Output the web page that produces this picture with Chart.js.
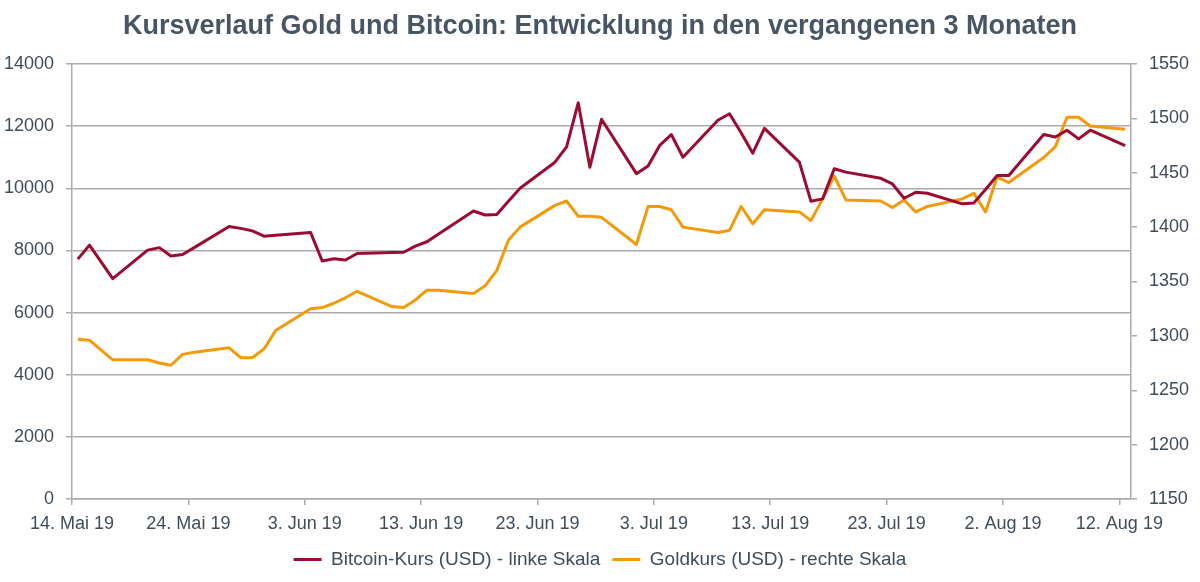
<!DOCTYPE html>
<html lang="de">
<head>
<meta charset="utf-8">
<script src="https://cdn.jsdelivr.net/npm/chart.js@4.4.1/dist/chart.umd.min.js"></script>
<style>
  html, body { margin: 0; padding: 0; background: #ffffff; }
  #wrap { width: 1200px; height: 582px; }
</style>
</head>
<body>
<div id="wrap"><canvas id="c" width="1200" height="582"></canvas></div>
<script>
// ---- Data ----
const startDate = "2019-05-14";
const dates = [
  "2019-05-14","2019-05-15","2019-05-17","2019-05-20","2019-05-21","2019-05-22","2019-05-23","2019-05-24",
  "2019-05-27","2019-05-28","2019-05-29","2019-05-30","2019-05-31",
  "2019-06-03","2019-06-04","2019-06-05","2019-06-06","2019-06-07",
  "2019-06-10","2019-06-11","2019-06-12","2019-06-13","2019-06-14",
  "2019-06-17","2019-06-18","2019-06-19","2019-06-20","2019-06-21",
  "2019-06-24","2019-06-25","2019-06-26","2019-06-27","2019-06-28",
  "2019-07-01","2019-07-02","2019-07-03","2019-07-04","2019-07-05",
  "2019-07-08","2019-07-09","2019-07-10","2019-07-11","2019-07-12",
  "2019-07-15","2019-07-16","2019-07-17","2019-07-18","2019-07-19",
  "2019-07-22","2019-07-23","2019-07-24","2019-07-25","2019-07-26",
  "2019-07-29","2019-07-30","2019-07-31","2019-08-01","2019-08-02",
  "2019-08-05","2019-08-06","2019-08-07","2019-08-08","2019-08-09",
  "2019-08-12"
];
const bitcoin = [
  7720, 8170, 7090, 8010, 8090, 7820, 7870, 8090,
  8770, 8710, 8630, 8460, 8490,
  8580, 7660, 7730, 7690, 7900,
  7930, 7940, 8140, 8280, 8530,
  9270, 9140, 9160, 9580, 10000,
  10840, 11330, 12750, 10680, 12220,
  10470, 10720, 11380, 11730, 11000,
  12190, 12400, 11790, 11130, 11930,
  10840, 9580, 9660, 10630, 10520,
  10320, 10140, 9680, 9870, 9840,
  9500, 9530, 9960, 10410, 10410,
  11730, 11650, 11870, 11590, 11870,
  11370
];
const gold = [
  1297, 1296, 1278, 1278, 1275, 1273, 1283, 1285,
  1289, 1280, 1280, 1288, 1305,
  1325, 1326, 1330, 1335, 1341,
  1327, 1326, 1333, 1342, 1342,
  1339, 1346, 1360, 1388, 1400,
  1420, 1424, 1410, 1410, 1409,
  1384, 1419, 1419, 1416, 1400,
  1395, 1397, 1419, 1403, 1416,
  1414, 1406, 1426, 1447, 1425,
  1424, 1418, 1425, 1414, 1419,
  1426, 1431, 1414, 1446, 1441,
  1464, 1474, 1501, 1501, 1493,
  1490
];
const tickLabels = ["14. Mai 19","24. Mai 19","3. Jun 19","13. Jun 19","23. Jun 19","3. Jul 19","13. Jul 19","23. Jul 19","2. Aug 19","12. Aug 19"];
const seriesNames = ["Bitcoin-Kurs (USD) - linke Skala", "Goldkurs (USD) - rechte Skala"];
const titleText = "Kursverlauf Gold und Bitcoin: Entwicklung in den vergangenen 3 Monaten";

// ---- helpers ----
const DAY = 86400000;
const t0 = Date.parse(startDate + "T00:00:00Z");
const dayIndex = d => Math.round((Date.parse(d + "T00:00:00Z") - t0) / DAY);
// each day occupies one unit; point sits at the middle of its day
const toPoints = vals => dates.map((d, i) => ({ x: dayIndex(d) + 0.5, y: vals[i] }));
const tickDays = tickLabels.map((_, i) => i * 10);

const TXT = "#3f4d5a";
const GRID = "#ababab";
const FONT = "'Liberation Sans', Arial, Helvetica, sans-serif";

new Chart(document.getElementById("c"), {
  type: "line",
  data: {
    datasets: [
      { label: seriesNames[0], data: toPoints(bitcoin), yAxisID: "yL",
        borderColor: "#9b0b33", backgroundColor: "#9b0b33", borderWidth: 3,
        pointRadius: 0, tension: 0, borderJoinStyle: "round" },
      { label: seriesNames[1], data: toPoints(gold), yAxisID: "yR",
        borderColor: "#f39a0b", backgroundColor: "#f39a0b", borderWidth: 3,
        pointRadius: 0, tension: 0, borderJoinStyle: "round" }
    ]
  },
  options: {
    responsive: false,
    animation: false,
    events: [],
    layout: { padding: { left: 0, right: 0, top: 0, bottom: 3 } },
    plugins: {
      title: {
        display: true, text: titleText, color: "#475664",
        font: { family: FONT, size: 27, weight: "bold" },
        padding: { top: 10, bottom: 21.6 }
      },
      legend: {
        position: "bottom",
        labels: {
          color: TXT, font: { family: FONT, size: 19 },
          usePointStyle: true, pointStyle: "line", pointStyleWidth: 28,
          boxHeight: 3, padding: 12
        }
      },
      tooltip: { enabled: false }
    },
    scales: {
      x: {
        type: "linear", min: 0, max: 91,
        afterBuildTicks: s => { s.ticks = tickDays.map(v => ({ value: v })); },
        afterFit: s => { s.height = 39; },
        ticks: {
          color: TXT, font: { family: FONT, size: 18 }, padding: 8,
          autoSkip: false, maxRotation: 0,
          callback: (v) => { const i = tickDays.indexOf(v); return i >= 0 ? tickLabels[i] : ""; }
        },
        grid: { drawOnChartArea: false, drawTicks: true, tickLength: 6, color: GRID, lineWidth: 1.5 },
        border: { display: true, color: GRID, width: 1.5 }
      },
      yL: {
        type: "linear", position: "left", min: 0, max: 14000,
        afterFit: s => { s.width = 72; },
        ticks: { stepSize: 2000, color: TXT, font: { family: FONT, size: 18 }, padding: 12,
                 callback: v => String(v) },
        grid: { drawOnChartArea: true, tickLength: 6, color: GRID, lineWidth: 1.5 },
        border: { display: true, color: GRID, width: 1.5 }
      },
      yR: {
        type: "linear", position: "right", min: 1150, max: 1550,
        afterFit: s => { s.width = 69; },
        ticks: { stepSize: 50, color: TXT, font: { family: FONT, size: 18 }, padding: 12,
                 callback: v => String(v) },
        grid: { drawOnChartArea: false, tickLength: 6, color: GRID, lineWidth: 1.5 },
        border: { display: true, color: GRID, width: 1.5 }
      }
    }
  }
});
</script>
</body>
</html>
